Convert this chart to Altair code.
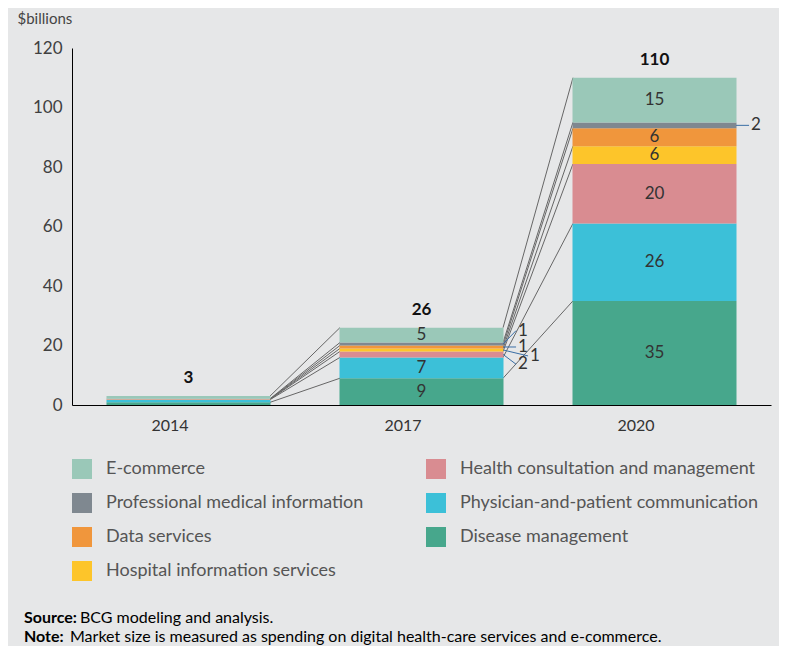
import altair as alt
import pandas as pd

years = ["2014", "2017", "2020"]
totals = [3, 26, 110]
# stack order bottom -> top
segments = [
    "Disease management",
    "Physician-and-patient communication",
    "Health consultation and management",
    "Hospital information services",
    "Data services",
    "Professional medical information",
    "E-commerce",
]
colors = ["#47a78c", "#3cc0d8", "#d98c91", "#fdc52a", "#f0963c", "#7f8890", "#9ac8b8"]
values_2014 = [0.9, 0.9, 0.1, 0.05, 0.05, 0.1, 0.9]
values_2017 = [9, 7, 2, 1, 1, 1, 5]
values_2020 = [35, 26, 20, 6, 6, 2, 15]
legend_order = [
    "E-commerce",
    "Professional medical information",
    "Data services",
    "Hospital information services",
    "Health consultation and management",
    "Physician-and-patient communication",
    "Disease management",
]

all_vals = [values_2014, values_2017, values_2020]
rows = []
for yr, vals in zip(years, all_vals):
    cum = 0
    for i, (seg, v) in enumerate(zip(segments, vals)):
        rows.append(dict(year=yr, segment=seg, value=v, y0=cum, y1=cum + v,
                         mid=cum + v / 2, order=i))
        cum += v
bars = pd.DataFrame(rows)

# connectors between consecutive years at each stack boundary
conn = []
for a in range(len(years) - 1):
    ca = bars[bars.year == years[a]].reset_index(drop=True)
    cb = bars[bars.year == years[a + 1]].reset_index(drop=True)
    for i in range(len(segments)):
        conn.append(dict(fy=years[a], ty=years[a + 1], fv=ca.y1[i], tv=cb.y1[i]))
conn = pd.DataFrame(conn)

inside = bars[(bars.year != "2014") & (bars.value >= 5)].copy()
inside["label"] = inside.value.astype(int).astype(str)

# small-segment callouts (label placed at a shifted y)
callout_shift = {"Professional medical information": 4.5,
                 "Data services": 0.0,
                 "Hospital information services": -2.0,
                 "Health consultation and management": -3.3}
c17 = bars[(bars.year == "2017") & (bars.segment.isin(callout_shift.keys()))].copy()
c17["ly"] = c17.mid + c17.segment.map(callout_shift)
c17["label"] = c17.value.astype(int).astype(str)
c17_near = c17[c17.segment != "Hospital information services"]
c17_far = c17[c17.segment == "Hospital information services"]
c20 = bars[(bars.year == "2020") & (bars.segment == "Professional medical information")].copy()
c20["label"] = c20.value.astype(int).astype(str)

tot = pd.DataFrame(dict(year=years, total=totals))

FONT = "Lato"
xscale = alt.Scale(domain=years, paddingInner=0.3, paddingOuter=0.15)
yscale = alt.Scale(domain=[0, 120])

base_bars = alt.Chart(bars).mark_bar(size=164).encode(
    x=alt.X("year:N", scale=xscale, title=None,
            axis=alt.Axis(labelAngle=0, ticks=False, domainColor="#000000",
                          labelFont=FONT, labelFontSize=16, labelColor="#333333",
                          labelPadding=20)),
    y=alt.Y("y0:Q", scale=yscale,
            axis=alt.Axis(values=[0, 20, 40, 60, 80, 100, 120], ticks=False, grid=False,
                          domainColor="#000000", labelFont=FONT, labelFontSize=17,
                          labelColor="#404040", labelPadding=10,
                          title="$billions", titleAngle=0, titleX=-55, titleY=-30,
                          titleAlign="left", titleBaseline="middle", titleFont=FONT,
                          titleFontSize=15, titleFontWeight="normal", titleColor="#444444")),
    y2="y1:Q",
    color=alt.Color("segment:N",
                    scale=alt.Scale(domain=legend_order,
                                    range=[colors[segments.index(s)] for s in legend_order]),
                    legend=alt.Legend(title=None, orient="none", legendX=0, legendY=411,
                                      columns=2, symbolType="square", symbolSize=400,
                                      symbolStrokeWidth=0, symbolOpacity=1,
                                      labelFont=FONT, labelFontSize=18, labelColor="#555555",
                                      labelOffset=14, rowPadding=14, columnPadding=21,
                                      gridAlign="all", padding=0, labelLimit=400)),
)

connectors = alt.Chart(conn).mark_rule(color="#666666", strokeWidth=1).encode(
    x=alt.X("fy:N", scale=xscale, bandPosition=1),
    x2=alt.X2("ty:N", bandPosition=0),
    y=alt.Y("fv:Q", scale=yscale),
    y2="tv:Q",
)

inside_text = alt.Chart(inside).mark_text(font=FONT, fontSize=17, color="#333333",
                                          baseline="middle").encode(
    x=alt.X("year:N", scale=xscale),
    y=alt.Y("mid:Q", scale=yscale),
    text="label:N",
)

lead_near = alt.Chart(c17_near).mark_rule(color="#3a6ea5", strokeWidth=1, x2Offset=13).encode(
    x=alt.X("year:N", scale=xscale, bandPosition=1),
    x2=alt.X2("year:N", bandPosition=1),
    y=alt.Y("mid:Q", scale=yscale),
    y2="ly:Q",
)
lead_far = alt.Chart(c17_far).mark_rule(color="#3a6ea5", strokeWidth=1, x2Offset=25).encode(
    x=alt.X("year:N", scale=xscale, bandPosition=1),
    x2=alt.X2("year:N", bandPosition=1),
    y=alt.Y("mid:Q", scale=yscale),
    y2="ly:Q",
)
txt_near = alt.Chart(c17_near).mark_text(font=FONT, fontSize=17, color="#333333",
                                         align="left", baseline="middle", dx=15).encode(
    x=alt.X("year:N", scale=xscale, bandPosition=1),
    y=alt.Y("ly:Q", scale=yscale),
    text="label:N",
)
txt_far = alt.Chart(c17_far).mark_text(font=FONT, fontSize=17, color="#333333",
                                       align="left", baseline="middle", dx=27).encode(
    x=alt.X("year:N", scale=xscale, bandPosition=1),
    y=alt.Y("ly:Q", scale=yscale),
    text="label:N",
)
lead20 = alt.Chart(c20).mark_rule(color="#3a6ea5", strokeWidth=1, x2Offset=13).encode(
    x=alt.X("year:N", scale=xscale, bandPosition=1),
    x2=alt.X2("year:N", bandPosition=1),
    y=alt.Y("mid:Q", scale=yscale),
)
txt20 = alt.Chart(c20).mark_text(font=FONT, fontSize=17, color="#333333",
                                 align="left", baseline="middle", dx=15).encode(
    x=alt.X("year:N", scale=xscale, bandPosition=1),
    y=alt.Y("mid:Q", scale=yscale),
    text="label:N",
)

total_text = alt.Chart(tot).mark_text(font=FONT, fontSize=17, fontWeight="bold",
                                      color="#111111", baseline="bottom", dy=-9).encode(
    x=alt.X("year:N", scale=xscale),
    y=alt.Y("total:Q", scale=yscale),
    text="total:N",
)

notes = pd.DataFrame(dict(
    bold=["Source:", "Note:"],
    rest=["BCG modeling and analysis.",
          "Market size is measured as spending on digital health-care services and e-commerce."],
    line=[0, 1],
))
line_y = alt.Y("line:Q", scale=alt.Scale(domain=[0, 1], range=[570, 589]), axis=None)
note_bold = alt.Chart(notes).mark_text(font=FONT, fontSize=16, fontWeight="bold",
                                       color="#000000", align="left", baseline="middle").encode(
    x=alt.value(-48),
    y=line_y,
    text="bold:N",
)
note_rest = alt.Chart(notes).mark_text(font=FONT, fontSize=16, color="#000000",
                                       align="left", baseline="middle").encode(
    x=alt.X("line:Q", scale=alt.Scale(domain=[0, 1], range=[8, -2]), axis=None),
    y=line_y,
    text="rest:N",
)

chart = alt.layer(
    connectors, base_bars, inside_text, lead_near, lead_far, txt_near, txt_far,
    lead20, txt20, total_text,
).resolve_scale(x="shared", y="shared")

footer = alt.layer(note_bold, note_rest)

full = alt.layer(chart, footer).resolve_scale(x="independent", y="independent").properties(
    width=699, height=357,
    autosize=alt.AutoSizeParams(type="none"),
    padding={"left": 64, "top": 40, "right": 8, "bottom": 241},
).configure(background="#e6e7e8").configure_view(stroke=None)

full.save("out.html", embed_options={"renderer": "svg", "actions": False})
